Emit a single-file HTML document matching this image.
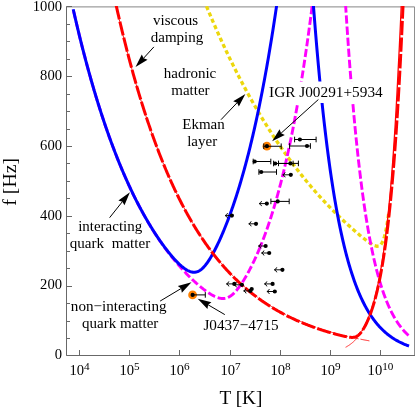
<!DOCTYPE html><html><head><meta charset="utf-8"><style>html,body{margin:0;padding:0;background:#fff}svg{display:block;will-change:transform;opacity:.999}text{font-family:"Liberation Serif",serif;fill:#000}</style></head><body>
<svg width="415" height="411" viewBox="0 0 415 411">
<rect width="415" height="411" fill="#fff"/>
<defs><clipPath id="c"><rect x="66.5" y="5.9" width="348.0" height="349.6"/></clipPath></defs>
<path d="M66.5,6.9H414.6V355.5" stroke="#858585" stroke-width="1" fill="none"/>
<path d="M66.5,6.4V355.5H415" stroke="#686868" stroke-width="1" fill="none"/>
<path d="M66.5,355.5h5.5M66.5,338.5h3.5M66.5,321.5h3.5M66.5,303.5h3.5M66.5,286.5h5.5M66.5,268.5h3.5M66.5,251.5h3.5M66.5,233.5h3.5M66.5,216.5h5.5M66.5,198.5h3.5M66.5,181.5h3.5M66.5,163.5h3.5M66.5,146.5h5.5M66.5,129.5h3.5M66.5,111.5h3.5M66.5,94.5h3.5M66.5,76.5h5.5M66.5,59.5h3.5M66.5,41.5h3.5M66.5,24.5h3.5M66.5,6.5h5.5M79.5,355.5v-5.5M129.5,355.5v-5.5M179.5,355.5v-5.5M230.5,355.5v-5.5M280.5,355.5v-5.5M330.5,355.5v-5.5M380.5,355.5v-5.5" stroke="#686868" stroke-width="1" fill="none"/>
<g clip-path="url(#c)" fill="none" stroke-linejoin="round">
<path d="M201.31,-6.57L202.07,-4.67L202.83,-2.76M203.88,-0.17L204.65,1.73L205.42,3.63M206.48,6.21L207.26,8.11L208.05,10.00M209.13,12.58L209.92,14.47L210.72,16.36M211.82,18.93L212.63,20.81L213.44,22.69M214.55,25.26L215.37,27.14L216.19,29.01M217.33,31.57L218.16,33.44L219.00,35.31M220.15,37.86L221.00,39.73L221.85,41.59M223.02,44.13L223.88,45.99L224.74,47.85M225.93,50.38L226.81,52.23L227.69,54.08M228.90,56.60L229.79,58.45L230.69,60.29M231.91,62.80L232.82,64.64L233.73,66.48M234.98,68.98L235.90,70.81L236.83,72.64M238.10,75.13L239.04,76.95L239.99,78.77M241.28,81.25L242.23,83.06L243.19,84.87M244.51,87.34L245.48,89.14L246.46,90.94M247.80,93.40L248.79,95.19L249.78,96.99M251.15,99.43L252.15,101.21L253.17,102.99M254.56,105.42L255.58,107.19L256.61,108.97M258.02,111.38L259.07,113.14L260.12,114.90M261.56,117.30L262.62,119.05L263.69,120.80M265.16,123.18L266.24,124.92L267.33,126.66M268.82,129.02L269.92,130.75L271.03,132.47M272.55,134.82L273.67,136.53L274.80,138.25M276.35,140.57L277.49,142.27L278.64,143.97M280.22,146.28L281.39,147.96L282.56,149.65M284.17,151.93L285.35,153.61L286.55,155.27M288.18,157.54L289.39,159.19L290.61,160.85M292.27,163.09L293.50,164.73L294.74,166.36M296.44,168.58L297.70,170.20L298.96,171.82M300.69,174.01L301.96,175.62L303.25,177.22M305.01,179.39L306.31,180.97L307.62,182.55M309.41,184.69L310.74,186.26L312.07,187.82M313.89,189.93L315.24,191.48L316.60,193.01M318.46,195.10L319.83,196.62L321.21,198.14M323.10,200.20L324.50,201.70L325.90,203.19M327.83,205.22L329.25,206.69L330.68,208.16M332.64,210.16L334.08,211.61L335.54,213.05M337.53,215.01L339.00,216.44L340.48,217.86M342.51,219.79L344.00,221.19L345.50,222.59M347.56,224.48L349.08,225.85L350.61,227.22M352.70,229.07L354.25,230.42L355.80,231.76M357.93,233.57L359.50,234.89L361.08,236.19M363.25,237.96L364.85,239.23L366.47,240.49M368.72,242.15L370.40,243.32L372.13,244.42M374.63,245.68L376.59,246.23L378.62,246.09M380.88,244.51L382.04,242.82L382.94,240.98M383.91,238.36L384.50,236.40L385.03,234.42M385.66,231.70L386.08,229.69L386.47,227.68M386.96,224.93L387.30,222.90L387.62,220.88M388.04,218.11L388.33,216.09L388.61,214.05" stroke="#ecd70c" stroke-width="3.3"/>
<path d="M73.20,9.29 L73.45,10.39 L73.70,11.49 L73.95,12.58 L74.20,13.67 L74.45,14.76 L74.70,15.85 L74.95,16.93 L75.20,18.00 L75.45,19.08 L75.70,20.14 L75.95,21.21 L76.20,22.27 L76.45,23.33 L76.70,24.39 L76.95,25.44 L77.20,26.49 L77.45,27.54 L77.70,28.58 L77.95,29.62 L78.20,30.66 L78.45,31.69 L78.70,32.72 L78.95,33.75 L79.20,34.77 L79.45,35.79 L79.70,36.81 L79.95,37.82 L80.20,38.83 L80.45,39.84 L80.70,40.84 L80.95,41.84 L81.20,42.84 L81.45,43.83 L81.70,44.82 L81.95,45.81 L82.20,46.80 L82.45,47.78 L82.70,48.76 L82.95,49.73 L83.20,50.70 L83.45,51.67 L83.70,52.64 L83.95,53.60 L84.20,54.56 L84.45,55.52 L84.70,56.47 L84.95,57.43 L85.20,58.37 L85.45,59.32 L85.70,60.26 L85.95,61.20 L86.20,62.13 L86.45,63.07 L86.70,64.00 L86.95,64.92 L87.20,65.85 L87.45,66.77 L87.70,67.69 L87.95,68.60 L88.20,69.51 L88.45,70.42 L88.70,71.33 L88.95,72.23 L89.20,73.14 L89.45,74.03 L89.70,74.93 L89.95,75.82 L90.20,76.71 L90.45,77.60 L90.70,78.48 L90.95,79.36 L91.20,80.24 L91.45,81.11 L91.70,81.99 L91.95,82.86 L92.20,83.72 L92.45,84.59 L92.70,85.45 L92.95,86.31 L93.20,87.16 L93.45,88.02 L93.70,88.87 L93.95,89.72 L94.20,90.56 L94.45,91.40 L94.70,92.24 L94.95,93.08 L95.20,93.91 L95.45,94.75 L95.70,95.58 L95.95,96.40 L96.20,97.23 L96.45,98.05 L96.70,98.87 L96.95,99.68 L97.20,100.50 L97.45,101.31 L97.70,102.12 L97.95,102.92 L98.20,103.72 L98.45,104.52 L98.70,105.32 L98.95,106.12 L99.20,106.91 L99.45,107.70 L99.70,108.49 L99.95,109.28 L100.20,110.06 L100.45,110.84 L100.70,111.62 L100.95,112.39 L101.20,113.17 L101.45,113.94 L101.70,114.70 L101.95,115.47 L102.20,116.23 L102.45,116.99 L102.70,117.75 L102.95,118.51 L103.20,119.26 L103.45,120.01 L103.70,120.76 L103.95,121.51 L104.20,122.25 L104.45,122.99 L104.70,123.73 L104.95,124.47 L105.20,125.21 L105.45,125.94 L105.70,126.67 L105.95,127.40 L106.20,128.12 L106.45,128.84 L106.70,129.56 L106.95,130.28 L107.20,131.00 L107.45,131.71 L107.70,132.42 L107.95,133.13 L108.20,133.84 L108.45,134.55 L108.70,135.25 L108.95,135.95 L109.20,136.65 L109.45,137.34 L109.70,138.04 L109.95,138.73 L110.20,139.42 L110.45,140.10 L110.70,140.79 L110.95,141.47 L111.20,142.15 L111.45,142.83 L111.70,143.51 L111.95,144.18 L112.20,144.85 L112.45,145.52 L112.70,146.19 L112.95,146.86 L113.20,147.52 L113.45,148.18 L113.70,148.84 L113.95,149.50 L114.20,150.15 L114.45,150.81 L114.70,151.46 L114.95,152.11 L115.20,152.75 L115.45,153.40 L115.70,154.04 L115.95,154.68 L116.20,155.32 L116.45,155.96 L116.70,156.59 L116.95,157.22 L117.20,157.85 L117.45,158.48 L117.70,159.11 L117.95,159.73 L118.20,160.36 L118.45,160.98 L118.70,161.59 L118.95,162.21 L119.20,162.83 L119.45,163.44 L119.70,164.05 L119.95,164.66 L120.20,165.27 L120.45,165.87 L120.70,166.47 L120.95,167.07 L121.20,167.67 L121.45,168.27 L121.70,168.87 L121.95,169.46 L122.20,170.05 L122.45,170.64 L122.70,171.23 L122.95,171.81 L123.20,172.40 L123.45,172.98 L123.70,173.56 L123.95,174.14 L124.20,174.72 L124.45,175.29 L124.70,175.86 L124.95,176.44 L125.20,177.01 L125.45,177.57 L125.70,178.14 L125.95,178.70 L126.20,179.26 L126.45,179.83 L126.70,180.38 L126.95,180.94 L127.20,181.50 L127.45,182.05 L127.70,182.60 L127.95,183.15 L128.20,183.70 L128.45,184.24 L128.70,184.79 L128.95,185.33 L129.20,185.87 L129.45,186.41 L129.70,186.95 L129.95,187.49 L130.20,188.02 L130.45,188.55 L130.70,189.08 L130.95,189.61 L131.20,190.14 L131.45,190.67 L131.70,191.19 L131.95,191.71 L132.20,192.23 L132.45,192.75 L132.70,193.27 L132.95,193.79 L133.20,194.30 L133.45,194.81 L133.70,195.32 L133.95,195.83 L134.20,196.34 L134.45,196.85 L134.70,197.35 L134.95,197.86 L135.20,198.36 L135.45,198.86 L135.70,199.35 L135.95,199.85 L136.20,200.35 L136.45,200.84 L136.70,201.33 L136.95,201.82 L137.20,202.31 L137.45,202.80 L137.70,203.28 L137.95,203.77 L138.20,204.25 L138.45,204.73 L138.70,205.21 L138.95,205.69 L139.20,206.16 L139.45,206.64 L139.70,207.11 L139.95,207.58 L140.20,208.05 L140.45,208.52 L140.70,208.99 L140.95,209.46 L141.20,209.92 L141.45,210.38 L141.70,210.85 L141.95,211.31 L142.20,211.76 L142.45,212.22 L142.70,212.68 L142.95,213.13 L143.20,213.58 L143.45,214.03 L143.70,214.48 L143.95,214.93 L144.20,215.38 L144.45,215.83 L144.70,216.27 L144.95,216.71 L145.20,217.15 L145.45,217.59 L145.70,218.03 L145.95,218.47 L146.20,218.90 L146.45,219.34 L146.70,219.77 L146.95,220.20 L147.20,220.63 L147.45,221.06 L147.70,221.49 L147.95,221.92 L148.20,222.34 L148.45,222.76 L148.70,223.19 L148.95,223.61 L149.20,224.03 L149.45,224.44 L149.70,224.86 L149.95,225.28 L150.20,225.69 L150.45,226.10 L150.70,226.52 L150.95,226.93 L151.20,227.33 L151.45,227.74 L151.70,228.15 L151.95,228.55 L152.20,228.96 L152.45,229.36 L152.70,229.76 L152.95,230.16 L153.20,230.56 L153.45,230.96 L153.70,231.35 L153.95,231.75 L154.20,232.14 L154.45,232.53 L154.70,232.92 L154.95,233.31 L155.20,233.70 L155.45,234.09 L155.70,234.47 L155.95,234.86 L156.20,235.24 L156.45,235.63 L156.70,236.01 L156.95,236.39 L157.20,236.77 L157.45,237.14 L157.70,237.52 L157.95,237.89 L158.20,238.27 L158.45,238.64 L158.70,239.01 L158.95,239.38 L159.20,239.75 L159.45,240.12 L159.70,240.49 L159.95,240.85 L160.20,241.22 L160.45,241.58 L160.70,241.94 L160.95,242.30 L161.20,242.66 L161.45,243.02 L161.70,243.38 L161.95,243.74 L162.20,244.09 L162.45,244.45 L162.70,244.80 L162.95,245.15 L163.20,245.50 L163.45,245.85 L163.70,246.20 L163.95,246.55 L164.20,246.89 L164.45,247.24 L164.70,247.58 L164.95,247.93 L165.20,248.27 L165.45,248.61 L165.70,248.95 L165.95,249.29 L166.20,249.63 L166.45,249.96 L166.70,250.30 L166.95,250.63 L167.20,250.96 L167.45,251.30 L167.70,251.63 L167.95,251.96 L168.20,252.29 L168.45,252.62 L168.70,252.94 L168.95,253.27 L169.20,253.59 L169.45,253.92 L169.70,254.24 L169.95,254.56 L170.20,254.88 L170.45,255.20 L170.70,255.52 L170.95,255.84 L171.20,256.15 L171.45,256.47 L171.70,256.79 L171.95,257.10 L172.20,257.41 L172.45,257.72 L172.70,258.03 L172.95,258.34 L173.20,258.65 L173.45,258.96 L173.70,259.27 L173.95,259.57 L174.20,259.88 L174.45,260.18 L174.70,260.48 L174.95,260.78 L175.20,261.09 L175.45,261.38 L175.70,261.68 L175.95,261.98 L176.20,262.28 L176.45,262.57 L176.70,262.87 L176.95,263.16 L177.20,263.46 L177.45,263.75 L177.70,264.04 L177.95,264.33 L178.20,264.62 L178.45,264.91 L178.70,265.19 L178.95,265.48 L179.20,265.77 L179.45,266.05 L179.70,266.33 L179.95,266.62 L180.20,266.90 L180.45,267.18 L180.70,267.46 L180.95,267.74 L181.20,268.02 L181.45,268.29 L181.70,268.57 L181.95,268.85 L182.20,269.12 L182.45,269.39 L182.70,269.67 L182.95,269.94 L183.20,270.21 L183.45,270.48 L183.70,270.75 L183.95,271.02 L184.20,271.28 L184.45,271.55 L184.70,271.82 L184.95,272.08 L185.20,272.34 L185.45,272.61 L185.70,272.87 L185.95,273.13 L186.20,273.39 L186.45,273.65 L186.70,273.91 L186.95,274.16 L187.20,274.42 L187.45,274.68 L187.70,274.93 L187.95,275.18 L188.20,275.44 L188.45,275.69 L188.70,275.94 L188.95,276.19 L189.20,276.44 L189.45,276.69 L189.70,276.94 L189.95,277.18 L190.20,277.43 L190.45,277.67 L190.70,277.92 L190.95,278.16 L191.20,278.40 L191.45,278.65 L191.70,278.89 L191.95,279.13 L192.20,279.37 L192.45,279.60 L192.70,279.84 L192.95,280.08 L193.20,280.31 L193.45,280.55 L193.70,280.78 L193.95,281.01 L194.20,281.24 L194.45,281.47 L194.70,281.70 L194.95,281.93 L195.20,282.16 L195.45,282.39 L195.70,282.62 L195.95,282.84 L196.20,283.06 L196.45,283.29 L196.70,283.51 L196.95,283.73 L197.20,283.95 L197.45,284.17 L197.70,284.39 L197.95,284.61 L198.20,284.83 L198.45,285.04 L198.70,285.26 L198.95,285.47 L199.20,285.68 L199.45,285.90 L199.70,286.11 L199.95,286.32 L200.20,286.52 L200.45,286.73 L200.70,286.94 L200.95,287.15 L201.20,287.35 L201.45,287.55 L201.70,287.76 L201.95,287.96 L202.20,288.16 L202.45,288.36 L202.70,288.56 L202.95,288.75 L203.20,288.95 L203.45,289.14 L203.70,289.34 L203.95,289.53 L204.20,289.72 L204.45,289.91 L204.70,290.10 L204.95,290.29 L205.20,290.47 L205.45,290.66 L205.70,290.84 L205.95,291.02 L206.20,291.21 L206.45,291.39 L206.70,291.56 L206.95,291.74 L207.20,291.92 L207.45,292.09 L207.70,292.26 L207.95,292.44 L208.20,292.61 L208.45,292.77 L208.70,292.94 L208.95,293.11 L209.20,293.27 L209.45,293.43 L209.70,293.59 L209.95,293.75 L210.20,293.91 L210.45,294.06 L210.70,294.21 L210.95,294.37 L211.20,294.52 L211.45,294.66 L211.70,294.81 L211.95,294.95 L212.20,295.09 L212.45,295.23 L212.70,295.37 L212.95,295.51 L213.20,295.64 L213.45,295.77 L213.70,295.90 L213.95,296.03 L214.20,296.15 L214.45,296.27 L214.70,296.39 L214.95,296.51 L215.20,296.62 L215.45,296.74 L215.70,296.84 L215.95,296.95 L216.20,297.05 L216.45,297.15 L216.70,297.25 L216.95,297.35 L217.20,297.44 L217.45,297.53 L217.70,297.61 L217.95,297.69 L218.20,297.77 L218.45,297.85 L218.70,297.92 L218.95,297.99 L219.20,298.05 L219.45,298.11 L219.70,298.17 L219.95,298.22 L220.20,298.27 L220.45,298.32 L220.70,298.36 L220.95,298.40 L221.20,298.43 L221.45,298.46 L221.70,298.48 L221.95,298.50 L222.20,298.52 L222.45,298.53 L222.70,298.53 L222.95,298.54 L223.20,298.53 L223.45,298.52 L223.70,298.51 L223.95,298.49 L224.20,298.47 L224.45,298.44 L224.70,298.40 L224.95,298.37 L225.20,298.32 L225.45,298.27 L225.70,298.21 L225.95,298.15 L226.20,298.09 L226.45,298.01 L226.70,297.94 L226.95,297.85 L227.20,297.76 L227.45,297.67 L227.70,297.56 L227.95,297.46 L228.20,297.34 L228.45,297.23 L228.70,297.10 L228.95,296.97 L229.20,296.83 L229.45,296.69 L229.70,296.54 L229.95,296.39 L230.20,296.23 L230.45,296.06 L230.70,295.89 L230.95,295.71 L231.20,295.53 L231.45,295.34 L231.70,295.14 L231.95,294.94 L232.20,294.74 L232.45,294.52 L232.70,294.31 L232.95,294.08 L233.20,293.86 L233.45,293.62 L233.70,293.38 L233.95,293.14 L234.20,292.89 L234.45,292.64 L234.70,292.38 L234.95,292.11 L235.20,291.84 L235.45,291.57 L235.70,291.29 L235.95,291.01 L236.20,290.72 L236.45,290.43 L236.70,290.13 L236.95,289.83 L237.20,289.52 L237.45,289.21 L237.70,288.90 L237.95,288.58 L238.20,288.26 L238.45,287.93 L238.70,287.60 L238.95,287.26 L239.20,286.92 L239.45,286.58 L239.70,286.24 L239.95,285.89 L240.20,285.53 L240.45,285.17 L240.70,284.81 L240.95,284.45 L241.20,284.08 L241.45,283.71 L241.70,283.33 L241.95,282.96 L242.20,282.57 L242.45,282.19 L242.70,281.80 L242.95,281.41 L243.20,281.01 L243.45,280.62 L243.70,280.21 L243.95,279.81 L244.20,279.40 L244.45,278.99 L244.70,278.58 L244.95,278.16 L245.20,277.74 L245.45,277.31 L245.70,276.89 L245.95,276.46 L246.20,276.03 L246.45,275.59 L246.70,275.15 L246.95,274.71 L247.20,274.27 L247.45,273.82 L247.70,273.37 L247.95,272.91 L248.20,272.46 L248.45,272.00 L248.70,271.53 L248.95,271.07 L249.20,270.60 L249.45,270.13 L249.70,269.65 L249.95,269.18 L250.20,268.69 L250.45,268.21 L250.70,267.72 L250.95,267.24 L251.20,266.74 L251.45,266.25 L251.70,265.75 L251.95,265.25 L252.20,264.74 L252.45,264.23 L252.70,263.72 L252.95,263.21 L253.20,262.69 L253.45,262.17 L253.70,261.65 L253.95,261.12 L254.20,260.59 L254.45,260.06 L254.70,259.52 L254.95,258.99 L255.20,258.44 L255.45,257.90 L255.70,257.35 L255.95,256.80 L256.20,256.24 L256.45,255.69 L256.70,255.13 L256.95,254.56 L257.20,253.99 L257.45,253.42 L257.70,252.85 L257.95,252.27 L258.20,251.69 L258.45,251.10 L258.70,250.52 L258.95,249.93 L259.20,249.33 L259.45,248.73 L259.70,248.13 L259.82,247.84" stroke="#ff00ff" stroke-width="2.9" stroke-dasharray="7.800 2.800" stroke-dashoffset="8.700"/>
<path d="M259.82,247.84 L259.95,247.53 L260.20,246.92 L260.45,246.31 L260.70,245.69 L260.95,245.08 L261.20,244.45 L261.45,243.83 L261.70,243.20 L261.95,242.57 L262.20,241.93 L262.45,241.29 L262.70,240.65 L262.95,240.00 L263.20,239.35 L263.45,238.69 L263.70,238.03 L263.95,237.37 L264.20,236.71 L264.45,236.04 L264.70,235.36 L264.95,234.69 L265.20,234.00 L265.45,233.32 L265.70,232.63 L265.95,231.94 L266.20,231.24 L266.45,230.54 L266.70,229.84 L266.95,229.13 L267.20,228.41 L267.45,227.70 L267.70,226.98 L267.95,226.25 L268.20,225.52 L268.45,224.79 L268.70,224.05 L268.95,223.31 L269.20,222.57 L269.45,221.82 L269.70,221.06 L269.95,220.31 L270.20,219.54 L270.45,218.78 L270.70,218.00 L270.95,217.23 L271.20,216.45 L271.45,215.67 L271.70,214.88 L271.95,214.08 L272.20,213.29 L272.45,212.48 L272.70,211.68 L272.95,210.87 L273.20,210.05 L273.45,209.23 L273.70,208.40 L273.95,207.57 L274.20,206.74 L274.45,205.90 L274.70,205.06 L274.95,204.21 L275.20,203.36 L275.45,202.50 L275.70,201.63 L275.95,200.77 L276.20,199.89 L276.45,199.02 L276.70,198.13 L276.95,197.25 L277.20,196.35 L277.45,195.46 L277.70,194.55 L277.95,193.65 L278.20,192.73 L278.45,191.81 L278.70,190.89 L278.95,189.96 L279.20,189.03 L279.45,188.09 L279.70,187.15 L279.95,186.20 L280.20,185.24 L280.45,184.28 L280.70,183.31 L280.95,182.34 L281.20,181.37 L281.45,180.38 L281.70,179.40 L281.95,178.40 L282.20,177.40 L282.45,176.40 L282.70,175.39 L282.95,174.37 L283.20,173.35 L283.45,172.32 L283.70,171.29 L283.95,170.25 L284.20,169.21 L284.45,168.16 L284.70,167.10 L284.95,166.04 L285.20,164.97 L285.45,163.89 L285.70,162.81 L285.95,161.73 L286.20,160.63 L286.45,159.53 L286.70,158.43 L286.95,157.32 L287.20,156.20 L287.45,155.07 L287.70,153.94 L287.95,152.81 L288.20,151.66 L288.45,150.51 L288.70,149.36 L288.95,148.19 L289.20,147.02 L289.45,145.85 L289.70,144.67 L289.95,143.48 L290.20,142.28 L290.45,141.08 L290.70,139.87 L290.95,138.65 L291.20,137.43 L291.45,136.20 L291.70,134.96 L291.95,133.72 L292.20,132.47 L292.45,131.21 L292.70,129.94 L292.95,128.67 L293.20,127.39 L293.45,126.10 L293.70,124.81 L293.95,123.51 L294.20,122.20 L294.45,120.88 L294.70,119.56 L294.95,118.23 L295.20,116.89 L295.45,115.55 L295.70,114.19 L295.95,112.83 L296.20,111.46 L296.45,110.09 L296.70,108.70 L296.95,107.31 L297.20,105.91 L297.45,104.50 L297.70,103.09 L297.95,101.66 L298.20,100.23 L298.45,98.79 L298.70,97.34 L298.95,95.89 L299.20,94.42 L299.45,92.95 L299.69,91.55" stroke="#ff00ff" stroke-width="2.9" stroke-dasharray="8.100 2.800" stroke-dashoffset="2.100"/>
<path d="M299.69,91.55 L299.70,91.47 L299.95,89.98 L300.20,88.48 L300.45,86.97 L300.70,85.46 L300.95,83.94 L301.20,82.40 L301.45,80.86 L301.70,79.31 L301.95,77.76 L302.20,76.19 L302.45,74.61 L302.70,73.03 L302.95,71.44 L303.20,69.83 L303.45,68.22 L303.70,66.60 L303.95,64.97 L304.20,63.33 L304.45,61.69 L304.70,60.03 L304.95,58.36 L305.20,56.69 L305.45,55.00 L305.70,53.31 L305.95,51.60 L306.20,49.89 L306.45,48.16 L306.70,46.43 L306.95,44.69 L307.20,42.93 L307.45,41.17 L307.70,39.40 L307.95,37.61 L308.20,35.82 L308.45,34.02 L308.70,32.20 L308.95,30.38 L309.20,28.55 L309.45,26.70 L309.70,24.85 L309.95,22.98 L310.20,21.11 L310.45,19.22 L310.70,17.32 L310.95,15.41 L311.20,13.50 L311.45,11.57 L311.70,9.63 L311.95,7.68 L312.20,5.71 L312.45,3.74 L312.70,1.76 L312.95,-0.24 L313.20,-2.25 L313.45,-4.26 L313.70,-6.29 L313.95,-8.33 L314.20,-10.39 L314.45,-12.45 L314.70,-14.53 L314.95,-16.61 L315.20,-18.71 L315.45,-20.82 L315.70,-22.95 L315.95,-25.08 L316.20,-27.23" stroke="#ff00ff" stroke-width="2.9" stroke-dasharray="8.000 2.800" stroke-dashoffset="8.200"/>
<path d="M344.00,-21.57 L344.25,-17.30 L344.50,-13.09 L344.75,-8.92 L345.00,-4.79 L345.25,-0.72 L345.50,3.31 L345.75,7.29 L346.00,11.23 L346.25,15.13 L346.50,18.98 L346.75,22.78 L347.00,26.54 L347.25,30.27 L347.50,33.94 L347.75,37.58 L348.00,41.18 L348.25,44.73 L348.50,48.25 L348.75,51.72 L349.00,55.16 L349.25,58.56 L349.50,61.91 L349.75,65.23 L350.00,68.52 L350.25,71.76 L350.50,74.97 L350.75,78.15 L351.00,81.28 L351.25,84.38 L351.50,87.45 L351.75,90.48 L352.00,93.48 L352.25,96.44 L352.50,99.37 L352.75,102.27 L353.00,105.13 L353.25,107.97 L353.50,110.77 L353.75,113.53 L354.00,116.27 L354.25,118.98 L354.50,121.65 L354.75,124.30 L355.00,126.91 L355.25,129.50 L355.50,132.05 L355.75,134.58 L356.00,137.08 L356.25,139.55 L356.50,141.99 L356.75,144.41 L357.00,146.79 L357.25,149.16 L357.50,151.49 L357.75,153.80 L358.00,156.08 L358.25,158.33 L358.50,160.56 L358.75,162.77 L359.00,164.95 L359.25,167.10 L359.50,169.23 L359.75,171.34 L360.00,173.42 L360.25,175.48 L360.50,177.52 L360.75,179.53 L361.00,181.52 L361.25,183.49 L361.50,185.44 L361.75,187.36 L362.00,189.26 L362.25,191.14 L362.50,193.00 L362.75,194.84 L363.00,196.66 L363.25,198.45 L363.50,200.23 L363.75,201.99 L364.00,203.72 L364.25,205.44 L364.50,207.14 L364.75,208.81 L365.00,210.47 L365.25,212.11 L365.50,213.73 L365.75,215.34 L366.00,216.92 L366.25,218.49 L366.50,220.04 L366.75,221.57 L367.00,223.09 L367.25,224.59 L367.50,226.07 L367.75,227.53 L368.00,228.98 L368.25,230.41 L368.50,231.82 L368.75,233.22 L369.00,234.61 L369.25,235.97 L369.50,237.32 L369.75,238.66 L370.00,239.98 L370.25,241.29 L370.50,242.58 L370.75,243.86 L371.00,245.12 L371.25,246.37 L371.50,247.60 L371.75,248.82 L372.00,250.03 L372.25,251.22 L372.50,252.40 L372.75,253.57 L373.00,254.72 L373.25,255.86 L373.50,256.99 L373.75,258.10 L374.00,259.20 L374.25,260.29 L374.50,261.37 L374.75,262.44 L375.00,263.49 L375.25,264.53 L375.50,265.56 L375.75,266.57 L376.00,267.58 L376.25,268.57 L376.50,269.56 L376.75,270.53 L377.00,271.49 L377.25,272.44 L377.50,273.38 L377.75,274.31 L378.00,275.23 L378.25,276.14 L378.50,277.03 L378.75,277.92 L379.00,278.80 L379.25,279.67 L379.50,280.52 L379.75,281.37 L380.00,282.21 L380.25,283.04 L380.50,283.86 L380.75,284.67 L381.00,285.47 L381.25,286.26 L381.50,287.05 L381.75,287.82 L382.00,288.59 L382.25,289.34 L382.50,290.09 L382.75,290.83 L383.00,291.56 L383.25,292.28 L383.50,293.00 L383.75,293.71 L384.00,294.41 L384.25,295.10 L384.50,295.78 L384.75,296.46 L385.00,297.12 L385.25,297.78 L385.50,298.44 L385.75,299.08 L386.00,299.72 L386.25,300.35 L386.50,300.97 L386.75,301.59 L387.00,302.20 L387.25,302.80 L387.50,303.40 L387.75,303.99 L388.00,304.57 L388.25,305.15 L388.50,305.72 L388.75,306.28 L389.00,306.84 L389.25,307.39 L389.50,307.93 L389.75,308.47 L390.00,309.00 L390.25,309.53 L390.50,310.05 L390.75,310.56 L391.00,311.07 L391.25,311.57 L391.50,312.07 L391.75,312.56 L392.00,313.05 L392.25,313.53 L392.50,314.00 L392.75,314.47 L393.00,314.93 L393.25,315.39 L393.50,315.85 L393.75,316.30 L394.00,316.74 L394.25,317.18 L394.50,317.61 L394.75,318.04 L395.00,318.46 L395.25,318.88 L395.50,319.30 L395.75,319.71 L396.00,320.11 L396.25,320.51 L396.50,320.91 L396.75,321.30 L397.00,321.68 L397.25,322.07 L397.50,322.45 L397.75,322.82 L398.00,323.19 L398.25,323.55 L398.50,323.92 L398.75,324.27 L399.00,324.63 L399.25,324.97 L399.50,325.32 L399.75,325.66 L400.00,326.00 L400.25,326.33 L400.50,326.66 L400.75,326.99 L401.00,327.31 L401.25,327.63 L401.50,327.95 L401.75,328.26 L402.00,328.57 L402.25,328.87 L402.50,329.17 L402.75,329.47 L403.00,329.76 L403.25,330.05 L403.50,330.34 L403.75,330.63 L404.00,330.91 L404.25,331.19 L404.50,331.46 L404.75,331.73 L405.00,332.00 L405.25,332.27 L405.50,332.53 L405.75,332.79 L406.00,333.05 L406.25,333.30 L406.50,333.55 L406.75,333.80 L407.00,334.05 L407.25,334.29 L407.50,334.53 L407.75,334.77 L408.00,335.00 L408.25,335.23 L408.50,335.46" stroke="#ff00ff" stroke-width="2.9" stroke-dasharray="8.318 2.800" stroke-dashoffset="7.444"/>
<path d="M73.20,9.29 L73.70,11.49 L74.20,13.67 L74.70,15.85 L75.20,18.00 L75.70,20.14 L76.20,22.27 L76.70,24.39 L77.20,26.49 L77.70,28.58 L78.20,30.66 L78.70,32.72 L79.20,34.77 L79.70,36.81 L80.20,38.83 L80.70,40.84 L81.20,42.84 L81.70,44.82 L82.20,46.80 L82.70,48.76 L83.20,50.70 L83.70,52.64 L84.20,54.56 L84.70,56.47 L85.20,58.37 L85.70,60.26 L86.20,62.13 L86.70,64.00 L87.20,65.85 L87.70,67.69 L88.20,69.51 L88.70,71.33 L89.20,73.14 L89.70,74.93 L90.20,76.71 L90.70,78.48 L91.20,80.24 L91.70,81.99 L92.20,83.72 L92.70,85.45 L93.20,87.16 L93.70,88.87 L94.20,90.56 L94.70,92.24 L95.20,93.91 L95.70,95.58 L96.20,97.23 L96.70,98.87 L97.20,100.50 L97.70,102.11 L98.20,103.72 L98.70,105.32 L99.20,106.91 L99.70,108.49 L100.20,110.06 L100.70,111.62 L101.20,113.17 L101.70,114.70 L102.20,116.23 L102.70,117.75 L103.20,119.26 L103.70,120.76 L104.20,122.25 L104.70,123.73 L105.20,125.20 L105.70,126.67 L106.20,128.12 L106.70,129.56 L107.20,131.00 L107.70,132.42 L108.20,133.84 L108.70,135.25 L109.20,136.65 L109.70,138.04 L110.20,139.42 L110.70,140.79 L111.20,142.15 L111.70,143.51 L112.20,144.85 L112.70,146.19 L113.20,147.52 L113.70,148.84 L114.20,150.15 L114.70,151.46 L115.20,152.75 L115.70,154.04 L116.20,155.32 L116.70,156.59 L117.20,157.85 L117.70,159.11 L118.20,160.35 L118.70,161.59 L119.20,162.82 L119.70,164.05 L120.20,165.26 L120.70,166.47 L121.20,167.67 L121.70,168.86 L122.20,170.05 L122.70,171.23 L123.20,172.40 L123.70,173.56 L124.20,174.71 L124.70,175.86 L125.20,177.00 L125.70,178.14 L126.20,179.26 L126.70,180.38 L127.20,181.49 L127.70,182.60 L128.20,183.69 L128.70,184.78 L129.20,185.87 L129.70,186.94 L130.20,188.01 L130.70,189.08 L131.20,190.13 L131.70,191.18 L132.20,192.23 L132.70,193.26 L133.20,194.29 L133.70,195.32 L134.20,196.33 L134.70,197.34 L135.20,198.35 L135.70,199.34 L136.20,200.33 L136.70,201.32 L137.20,202.30 L137.70,203.27 L138.20,204.23 L138.70,205.19 L139.20,206.15 L139.70,207.09 L140.20,208.04 L140.70,208.97 L141.20,209.90 L141.70,210.82 L142.20,211.74 L142.70,212.65 L143.20,213.56 L143.70,214.46 L144.20,215.35 L144.70,216.24 L145.20,217.12 L145.70,218.00 L146.20,218.87 L146.70,219.73 L147.20,220.59 L147.70,221.45 L148.20,222.29 L148.70,223.14 L149.20,223.97 L149.70,224.81 L150.20,225.63 L150.70,226.45 L151.20,227.27 L151.70,228.08 L152.20,228.88 L152.70,229.68 L153.20,230.47 L153.70,231.26 L154.20,232.05 L154.70,232.82 L155.20,233.60 L155.70,234.36 L156.20,235.12 L156.70,235.88 L157.20,236.63 L157.70,237.38 L158.20,238.12 L158.70,238.85 L159.20,239.58 L159.70,240.31 L160.20,241.03 L160.70,241.74 L161.20,242.45 L161.70,243.16 L162.20,243.85 L162.70,244.55 L163.20,245.24 L163.70,245.92 L164.20,246.59 L164.70,247.27 L165.20,247.93 L165.70,248.59 L166.20,249.25 L166.70,249.90 L167.20,250.54 L167.70,251.18 L168.20,251.81 L168.70,252.44 L169.20,253.06 L169.70,253.67 L170.20,254.28 L170.70,254.89 L171.20,255.48 L171.70,256.07 L172.20,256.66 L172.70,257.23 L173.20,257.80 L173.70,258.37 L174.20,258.92 L174.70,259.47 L175.20,260.02 L175.70,260.55 L176.20,261.08 L176.70,261.60 L177.20,262.11 L177.70,262.61 L178.20,263.11 L178.70,263.60 L179.20,264.07 L179.70,264.54 L180.20,265.00 L180.70,265.45 L181.20,265.89 L181.70,266.32 L182.20,266.73 L182.70,267.14 L183.20,267.54 L183.70,267.92 L184.20,268.29 L184.70,268.65 L185.20,268.99 L185.70,269.32 L186.20,269.63 L186.70,269.93 L187.20,270.22 L187.70,270.49 L188.20,270.74 L188.70,270.98 L189.20,271.19 L189.70,271.39 L190.20,271.57 L190.70,271.73 L191.20,271.87 L191.70,271.99 L192.20,272.08 L192.70,272.16 L193.20,272.21 L193.70,272.23 L194.20,272.24 L194.70,272.21 L195.20,272.16 L195.70,272.09 L196.20,271.99 L196.70,271.86 L197.20,271.70 L197.70,271.52 L198.20,271.31 L198.70,271.07 L199.20,270.80 L199.70,270.51 L200.20,270.18 L200.70,269.83 L201.20,269.45 L201.70,269.04 L202.20,268.60 L202.70,268.14 L203.20,267.65 L203.70,267.13 L204.20,266.59 L204.70,266.02 L205.20,265.43 L205.70,264.81 L206.20,264.17 L206.70,263.51 L207.20,262.82 L207.70,262.11 L208.20,261.38 L208.70,260.63 L209.20,259.87 L209.70,259.08 L210.20,258.27 L210.70,257.44 L211.20,256.60 L211.70,255.74 L212.20,254.86 L212.70,253.97 L213.20,253.06 L213.70,252.14 L214.20,251.20 L214.70,250.24 L215.20,249.27 L215.70,248.29 L216.20,247.29 L216.70,246.28 L217.20,245.25 L217.70,244.21 L218.20,243.16 L218.70,242.09 L219.20,241.01 L219.70,239.92 L220.20,238.81 L220.70,237.70 L221.20,236.56 L221.70,235.42 L222.20,234.26 L222.70,233.09 L223.20,231.91 L223.70,230.71 L224.20,229.50 L224.70,228.28 L225.20,227.04 L225.70,225.80 L226.20,224.53 L226.70,223.26 L227.20,221.97 L227.70,220.67 L228.20,219.36 L228.70,218.03 L229.20,216.69 L229.70,215.33 L230.20,213.96 L230.70,212.58 L231.20,211.19 L231.70,209.78 L232.20,208.35 L232.70,206.91 L233.20,205.46 L233.70,203.99 L234.20,202.51 L234.70,201.01 L235.20,199.50 L235.70,197.97 L236.20,196.43 L236.70,194.88 L237.20,193.30 L237.70,191.72 L238.20,190.11 L238.70,188.49 L239.20,186.86 L239.70,185.21 L240.20,183.54 L240.70,181.85 L241.20,180.15 L241.70,178.44 L242.20,176.70 L242.70,174.95 L243.20,173.18 L243.70,171.40 L244.20,169.59 L244.70,167.77 L245.20,165.93 L245.70,164.08 L246.20,162.20 L246.70,160.31 L247.20,158.40 L247.70,156.46 L248.20,154.51 L248.70,152.55 L249.20,150.56 L249.70,148.55 L250.20,146.52 L250.70,144.47 L251.20,142.41 L251.70,140.32 L252.20,138.21 L252.70,136.08 L253.20,133.93 L253.70,131.76 L254.20,129.57 L254.70,127.36 L255.20,125.12 L255.70,122.86 L256.20,120.58 L256.70,118.28 L257.20,115.96 L257.70,113.61 L258.20,111.24 L258.70,108.85 L259.20,106.43 L259.70,103.99 L260.20,101.53 L260.70,99.04 L261.20,96.53 L261.70,93.99 L262.20,91.43 L262.70,88.84 L263.20,86.23 L263.70,83.59 L264.20,80.93 L264.70,78.24 L265.20,75.52 L265.70,72.78 L266.20,70.01 L266.70,67.21 L267.20,64.38 L267.70,61.53 L268.20,58.65 L268.70,55.74 L269.20,52.81 L269.70,49.84 L270.20,46.85 L270.70,43.82 L271.20,40.77 L271.70,37.68 L272.20,34.57 L272.70,31.43 L273.20,28.25 L273.70,25.04 L274.20,21.81 L274.70,18.54 L275.20,15.24 L275.70,11.90 L276.20,8.54 L276.70,5.14 L277.20,1.70 L277.70,-1.76 L278.20,-5.26 L278.70,-8.80 L279.20,-12.37 L279.70,-15.97 L280.20,-19.61 L280.70,-23.29 L281.20,-27.00" stroke="#0000ff" stroke-width="3.0"/>
<path d="M311.00,-28.09 L311.50,-20.91 L312.00,-13.86 L312.50,-6.94 L313.00,-0.16 L313.50,6.50 L314.00,13.03 L314.50,19.45 L315.00,25.74 L315.50,31.91 L316.00,37.97 L316.50,43.92 L317.00,49.75 L317.50,55.47 L318.00,61.09 L318.50,66.60 L319.00,72.01 L319.50,77.32 L320.00,82.53 L320.50,87.64 L321.00,92.65 L321.50,97.57 L322.00,102.40 L322.50,107.14 L323.00,111.79 L323.50,116.35 L324.00,120.83 L324.50,125.23 L325.00,129.54 L325.50,133.77 L326.00,137.92 L326.50,141.99 L327.00,145.99 L327.50,149.91 L328.00,153.76 L328.50,157.54 L329.00,161.24 L329.50,164.88 L330.00,168.45 L330.50,171.95 L331.00,175.39 L331.50,178.76 L332.00,182.07 L332.50,185.32 L333.00,188.50 L333.50,191.63 L334.00,194.70 L334.50,197.71 L335.00,200.66 L335.50,203.56 L336.00,206.41 L336.50,209.20 L337.00,211.94 L337.50,214.63 L338.00,217.26 L338.50,219.85 L339.00,222.39 L339.50,224.88 L340.00,227.33 L340.50,229.73 L341.00,232.08 L341.50,234.39 L342.00,236.66 L342.50,238.89 L343.00,241.07 L343.50,243.21 L344.00,245.31 L344.50,247.38 L345.00,249.40 L345.50,251.39 L346.00,253.34 L346.50,255.25 L347.00,257.13 L347.50,258.97 L348.00,260.78 L348.50,262.55 L349.00,264.29 L349.50,266.00 L350.00,267.67 L350.50,269.32 L351.00,270.93 L351.50,272.51 L352.00,274.07 L352.50,275.59 L353.00,277.09 L353.50,278.56 L354.00,280.00 L354.50,281.41 L355.00,282.80 L355.50,284.16 L356.00,285.49 L356.50,286.81 L357.00,288.09 L357.50,289.35 L358.00,290.59 L358.50,291.81 L359.00,293.00 L359.50,294.17 L360.00,295.32 L360.50,296.44 L361.00,297.55 L361.50,298.64 L362.00,299.70 L362.50,300.74 L363.00,301.77 L363.50,302.78 L364.00,303.76 L364.50,304.73 L365.00,305.68 L365.50,306.61 L366.00,307.53 L366.50,308.43 L367.00,309.31 L367.50,310.17 L368.00,311.02 L368.50,311.86 L369.00,312.67 L369.50,313.47 L370.00,314.26 L370.50,315.03 L371.00,315.79 L371.50,316.53 L372.00,317.26 L372.50,317.98 L373.00,318.68 L373.50,319.37 L374.00,320.05 L374.50,320.71 L375.00,321.36 L375.50,322.00 L376.00,322.63 L376.50,323.25 L377.00,323.85 L377.50,324.44 L378.00,325.02 L378.50,325.59 L379.00,326.15 L379.50,326.70 L380.00,327.24 L380.50,327.77 L381.00,328.29 L381.50,328.80 L382.00,329.30 L382.50,329.79 L383.00,330.27 L383.50,330.74 L384.00,331.21 L384.50,331.66 L385.00,332.11 L385.50,332.55 L386.00,332.98 L386.50,333.40 L387.00,333.81 L387.50,334.22 L388.00,334.62 L388.50,335.01 L389.00,335.39 L389.50,335.77 L390.00,336.14 L390.50,336.50 L391.00,336.86 L391.50,337.20 L392.00,337.55 L392.50,337.88 L393.00,338.21 L393.50,338.54 L394.00,338.85 L394.50,339.17 L395.00,339.47 L395.50,339.77 L396.00,340.07 L396.50,340.35 L397.00,340.64 L397.50,340.92 L398.00,341.19 L398.50,341.46 L399.00,341.72 L399.50,341.98 L400.00,342.23 L400.50,342.48 L401.00,342.72 L401.50,342.96 L402.00,343.20 L402.50,343.43 L403.00,343.65 L403.50,343.88 L404.00,344.09 L404.50,344.31 L405.00,344.52 L405.50,344.72 L406.00,344.92 L406.50,345.12 L407.00,345.32 L407.50,345.51 L408.00,345.69 L408.50,345.88 L409.00,346.06" stroke="#0000ff" stroke-width="3.0"/>
<path d="M110.00,-23.15 L110.50,-20.74 L111.00,-18.35 L111.50,-15.98 L112.00,-13.62 L112.50,-11.28 L113.00,-8.95 L113.50,-6.64 L114.00,-4.34 L114.50,-2.05 L115.00,0.22 L115.50,2.48 L116.00,4.72 L116.50,6.94 L117.00,9.16 L117.50,11.36 L118.00,13.54 L118.50,15.71 L119.00,17.87 L119.50,20.01 L120.00,22.15 L120.50,24.26 L121.00,26.37 L121.50,28.45 L122.00,30.53 L122.50,32.60 L123.00,34.65 L123.50,36.68 L124.00,38.71 L124.50,40.72 L125.00,42.72 L125.50,44.70 L126.00,46.68 L126.50,48.64 L127.00,50.59 L127.50,52.52 L128.00,54.45 L128.50,56.36 L129.00,58.26 L129.50,60.15 L130.00,62.02 L130.50,63.88 L131.00,65.74 L131.50,67.58 L132.00,69.40 L132.50,71.22 L133.00,73.03 L133.50,74.82 L134.00,76.60 L134.50,78.37 L135.00,80.13 L135.50,81.88 L136.00,83.62 L136.50,85.34 L137.00,87.06 L137.50,88.76 L138.00,90.46 L138.50,92.14 L139.00,93.81 L139.50,95.47 L140.00,97.13 L140.50,98.77 L141.00,100.40 L141.50,102.02 L142.00,103.63 L142.50,105.23 L143.00,106.81 L143.50,108.39 L144.00,109.96 L144.50,111.52 L145.00,113.07 L145.50,114.61 L146.00,116.14 L146.50,117.66 L147.00,119.17 L147.50,120.67 L148.00,122.16 L148.50,123.64 L149.00,125.12 L149.50,126.58 L150.00,128.03 L150.50,129.48 L151.00,130.91 L151.50,132.34 L152.00,133.76 L152.50,135.16 L153.00,136.56 L153.50,137.95 L154.00,139.33 L154.50,140.71 L155.00,142.07 L155.50,143.43 L156.00,144.77 L156.50,146.11 L157.00,147.44 L157.50,148.76 L158.00,150.07 L158.50,151.38 L159.00,152.67 L159.50,153.96 L160.00,155.24 L160.50,156.51 L161.00,157.78 L161.50,159.03 L162.00,160.28 L162.50,161.52 L163.00,162.75 L163.50,163.98 L164.00,165.19 L164.50,166.40 L165.00,167.60 L165.50,168.79 L166.00,169.98 L166.50,171.16 L167.00,172.33 L167.50,173.49 L168.00,174.65 L168.50,175.79 L169.00,176.94 L169.50,178.07 L170.00,179.20 L170.50,180.32 L171.00,181.43 L171.50,182.53 L172.00,183.63 L172.50,184.72 L173.00,185.81 L173.50,186.89 L174.00,187.96 L174.50,189.02 L175.00,190.08 L175.50,191.13 L176.00,192.17 L176.50,193.21 L177.00,194.24 L177.50,195.26 L178.00,196.28 L178.50,197.29 L179.00,198.30 L179.50,199.29 L180.00,200.29 L180.50,201.27 L181.00,202.25 L181.50,203.22 L182.00,204.19 L182.50,205.15 L183.00,206.11 L183.50,207.05 L184.00,208.00 L184.50,208.93 L185.00,209.86 L185.50,210.79 L186.00,211.71 L186.50,212.62 L187.00,213.53 L187.50,214.43 L188.00,215.33 L188.50,216.22 L189.00,217.10 L189.50,217.98 L190.00,218.85 L190.50,219.72 L191.00,220.58 L191.50,221.44 L192.00,222.29 L192.50,223.14 L193.00,223.98 L193.50,224.81 L194.00,225.64 L194.50,226.47 L195.00,227.29 L195.50,228.10 L196.00,228.91 L196.50,229.71 L197.00,230.51 L197.50,231.30 L198.00,232.09 L198.50,232.88 L199.00,233.66 L199.50,234.43 L200.00,235.20 L200.50,235.96 L201.00,236.72 L201.50,237.47 L202.00,238.22 L202.50,238.97 L203.00,239.71 L203.50,240.44 L204.00,241.17 L204.50,241.90 L205.00,242.62 L205.50,243.34 L206.00,244.05 L206.50,244.76 L207.00,245.46 L207.50,246.16 L208.00,246.85 L208.50,247.54 L209.00,248.23 L209.50,248.91 L210.00,249.59 L210.50,250.26 L211.00,250.93 L211.50,251.59 L212.00,252.25 L212.50,252.91 L213.00,253.56 L213.50,254.21 L214.00,254.85 L214.50,255.49 L215.00,256.12 L215.50,256.76 L216.00,257.38 L216.50,258.01 L217.00,258.62 L217.50,259.24 L218.00,259.85 L218.50,260.46 L219.00,261.06 L219.50,261.66 L220.00,262.26 L220.50,262.85 L221.00,263.44 L221.50,264.02 L222.00,264.60 L222.50,265.18 L223.00,265.75 L223.50,266.32 L224.00,266.89 L224.50,267.45 L225.00,268.01 L225.50,268.57 L226.00,269.12 L226.50,269.67 L227.00,270.21 L227.50,270.75 L228.00,271.29 L228.50,271.83 L229.00,272.36 L229.50,272.89 L230.00,273.41 L230.50,273.93 L231.00,274.45 L231.50,274.96 L232.00,275.48 L232.50,275.98 L233.00,276.49 L233.50,276.99 L234.00,277.49 L234.50,277.98 L235.00,278.48 L235.50,278.97 L236.00,279.45 L236.50,279.93 L237.00,280.41 L237.50,280.89 L238.00,281.36 L238.50,281.84 L239.00,282.30 L239.50,282.77 L240.00,283.23 L240.50,283.69 L241.00,284.14 L241.50,284.60 L242.00,285.05 L242.50,285.50 L243.00,285.94 L243.50,286.38 L244.00,286.82 L244.50,287.26 L245.00,287.69 L245.50,288.12 L246.00,288.55 L246.50,288.97 L247.00,289.40 L247.50,289.82 L248.00,290.23 L248.50,290.65 L249.00,291.06 L249.50,291.47 L250.00,291.87 L250.50,292.28 L251.00,292.68 L251.50,293.08 L252.00,293.48 L252.50,293.87 L253.00,294.26 L253.50,294.65 L254.00,295.04 L254.50,295.42 L255.00,295.80 L255.50,296.18 L256.00,296.56 L256.50,296.93 L257.00,297.30 L257.50,297.67 L258.00,298.04 L258.50,298.40 L259.00,298.77 L259.50,299.13 L260.00,299.49 L260.50,299.84 L261.00,300.19 L261.50,300.55 L262.00,300.89 L262.50,301.24 L263.00,301.59 L263.50,301.93 L264.00,302.27 L264.50,302.61 L265.00,302.94 L265.50,303.28 L266.00,303.61 L266.50,303.94 L267.00,304.26 L267.50,304.59 L268.00,304.91 L268.50,305.23 L269.00,305.55 L269.50,305.87 L270.00,306.19 L270.50,306.50 L271.00,306.81 L271.50,307.12 L272.00,307.43 L272.50,307.73 L273.00,308.04 L273.50,308.34 L274.00,308.64 L274.50,308.93 L275.00,309.23 L275.50,309.52 L276.00,309.82 L276.50,310.11 L277.00,310.39 L277.50,310.68 L278.00,310.96 L278.50,311.25 L279.00,311.53 L279.50,311.81 L280.00,312.08 L280.50,312.36 L281.00,312.63 L281.50,312.91 L282.00,313.18 L282.50,313.45 L283.00,313.71 L283.50,313.98 L284.00,314.24 L284.50,314.50 L285.00,314.76 L285.50,315.02 L286.00,315.28 L286.50,315.54 L287.00,315.79 L287.50,316.04 L288.00,316.29 L288.50,316.54 L289.00,316.79 L289.50,317.03 L290.00,317.28 L290.50,317.52 L291.00,317.76 L291.50,318.00 L292.00,318.24 L292.50,318.48 L293.00,318.71 L293.50,318.95 L294.00,319.18 L294.50,319.41 L295.00,319.64 L295.50,319.86 L296.00,320.09 L296.50,320.32 L297.00,320.54 L297.50,320.76 L298.00,320.98 L298.50,321.20 L299.00,321.42 L299.50,321.64 L300.00,321.85 L300.50,322.06 L301.00,322.28 L301.50,322.49 L302.00,322.70 L302.50,322.91 L303.00,323.11 L303.50,323.32 L304.00,323.52 L304.50,323.73 L305.00,323.93 L305.50,324.13 L306.00,324.33 L306.50,324.52 L307.00,324.72 L307.50,324.92 L308.00,325.11 L308.50,325.30 L309.00,325.50 L309.50,325.69 L310.00,325.88 L310.50,326.06 L311.00,326.25 L311.50,326.44 L312.00,326.62 L312.50,326.80 L313.00,326.99 L313.50,327.17 L314.00,327.35 L314.50,327.53 L315.00,327.70 L315.50,327.88 L316.00,328.06 L316.50,328.23 L317.00,328.40 L317.50,328.57 L318.00,328.75 L318.50,328.92 L319.00,329.08 L319.50,329.25 L320.00,329.42 L320.50,329.58 L321.00,329.75 L321.50,329.91 L322.00,330.08 L322.50,330.24 L323.00,330.40 L323.50,330.56 L324.00,330.71 L324.50,330.87 L325.00,331.03 L325.50,331.18 L326.00,331.34 L326.50,331.49 L327.00,331.64 L327.50,331.80 L328.00,331.95 L328.50,332.10 L329.00,332.24 L329.50,332.39 L330.00,332.54 L330.50,332.68 L331.00,332.83 L331.50,332.97 L332.00,333.12 L332.50,333.26 L333.00,333.40 L333.50,333.54 L334.00,333.68 L334.50,333.82 L335.00,333.96 L335.50,334.09 L336.00,334.23 L336.50,334.36 L337.00,334.50 L337.50,334.63 L338.00,334.76 L338.50,334.90 L339.00,335.03 L339.50,335.16 L340.00,335.29 L340.50,335.41 L341.00,335.54 L341.50,335.67 L342.00,335.79 L342.50,335.92 L343.00,336.04 L343.50,336.17 L344.00,336.29 L344.50,336.41 L345.00,336.53 L345.50,336.65 L346.00,336.77 L346.50,336.89 L347.00,337.01 L347.50,337.13 L348.00,337.24 L348.50,337.36 L349.00,337.48 L349.50,337.59 L350.00,337.70 L350.50,337.82 L351.00,337.93 L351.50,338.04 L352.00,338.15 L352.50,338.26 L353.00,338.37 L353.50,338.48 L354.00,338.59 L354.50,338.69 L355.00,338.80 L355.50,338.91 L356.00,339.01 L356.50,339.12 L357.00,339.22 L357.50,339.33 L358.00,339.43 L358.50,339.53 L359.00,339.63 L359.50,339.73 L360.00,339.83 L360.50,339.93 L361.00,340.03 L361.50,340.13 L362.00,340.23 L362.50,340.32 L363.00,340.42 L363.50,340.52 L364.00,340.61 L364.50,340.71 L365.00,340.80 L365.50,340.89 L366.00,340.99 L366.50,341.08 L367.00,341.17 L367.50,341.26 L368.00,341.35 L368.50,341.44 L369.00,341.53 L369.50,341.62 L370.00,341.71 L370.50,341.79" stroke="#ff0000" stroke-width="0.9" stroke-dasharray="9 2" transform="translate(-0.3,-0.8)"/>
<path d="M345.60,347.28 L345.85,347.14 L346.10,347.00 L346.35,346.86 L346.60,346.72 L346.85,346.58 L347.10,346.43 L347.35,346.28 L347.60,346.13 L347.85,345.98 L348.10,345.82 L348.35,345.66 L348.60,345.50 L348.85,345.33 L349.10,345.17 L349.35,345.00 L349.60,344.82 L349.85,344.65 L350.10,344.47 L350.35,344.29 L350.60,344.10 L350.85,343.92 L351.10,343.72 L351.35,343.53 L351.60,343.33 L351.85,343.13 L352.10,342.93 L352.35,342.72 L352.60,342.51 L352.85,342.30 L353.10,342.08 L353.35,341.86 L353.60,341.64 L353.85,341.41 L354.10,341.18 L354.35,340.94 L354.60,340.70 L354.85,340.46 L355.10,340.21 L355.35,339.96 L355.60,339.70 L355.85,339.44 L356.10,339.18 L356.35,338.91 L356.60,338.64 L356.85,338.36 L357.10,338.08 L356.95,337.79 L357.20,337.50 L357.45,337.20 L357.69,336.90 L357.94,336.59 L358.19,336.28 L358.44,335.97 L358.69,335.65 L358.94,335.32 L359.18,334.99 L359.43,334.65 L359.68,334.31 L359.93,333.96 L360.18,333.60 L360.43,333.24 L360.67,332.88 L360.92,332.50 L361.17,332.13 L361.42,331.74 L361.67,331.35 L361.91,330.95 L362.16,330.55 L362.41,330.14" stroke="#ff0000" stroke-width="0.85"/>
<path d="M361.91,330.95 L362.16,330.55 L362.41,330.14 L362.66,329.72 L362.90,329.30 L363.15,328.86 L363.40,328.43 L363.65,327.98 L363.90,327.53 L364.14,327.07 L364.39,326.60 L364.64,326.12 L364.89,325.64 L365.13,325.15 L365.38,324.65 L365.63,324.14 L365.88,323.62 L366.12,323.10 L366.37,322.57 L366.62,322.02 L366.86,321.47 L367.11,320.91 L367.36,320.34 L367.61,319.77 L367.85,319.18 L368.10,318.58 L368.35,317.97 L368.59,317.35 L368.84,316.73 L369.09,316.09 L369.33,315.44 L369.58,314.78 L369.83,314.11 L370.07,313.43 L370.32,312.74 L370.57,312.03 L370.81,311.32 L371.06,310.59 L371.30,309.85 L371.55,309.10 L371.80,308.34 L372.04,307.56 L372.29,306.77 L372.53,305.97 L372.78,305.15 L373.03,304.32 L373.27,303.48 L373.52,302.63 L373.76,301.76 L374.01,300.87 L374.25,299.97 L374.50,299.06 L374.74,298.13 L374.99,297.19 L375.23,296.23 L375.48,295.25 L375.72,294.26 L375.97,293.25 L376.21,292.23 L376.46,291.18 L376.70,290.13 L376.95,289.05 L377.19,287.96 L377.43,286.84 L377.68,285.71 L377.92,284.57 L378.17,283.40 L378.41,282.21 L378.65,281.01 L378.90,279.78 L379.14,278.53 L379.39,277.27 L379.63,275.98 L379.87,274.67 L380.11,273.34 L380.36,271.99 L380.60,270.61 L380.84,269.22 L381.09,267.80 L381.33,266.35 L381.57,264.88 L381.81,263.39 L382.06,261.88 L382.30,260.34 L382.54,258.77 L382.78,257.18 L383.02,255.56 L383.26,253.91 L383.51,252.24 L383.75,250.54 L383.99,248.82 L384.23,247.06 L384.47,245.27 L384.71,243.46 L384.95,241.62 L385.19,239.74 L385.43,237.84 L385.67,235.90 L385.91,233.93 L386.15,231.93 L386.39,229.90 L386.63,227.83 L386.87,225.73 L387.11,223.59 L387.35,221.42 L387.58,219.21 L387.82,216.97 L388.06,214.69 L388.30,212.37 L388.54,210.02 L388.77,207.62 L389.01,205.19 L389.25,202.72 L389.49,200.20 L389.72,197.64 L389.96,195.05 L390.20,192.41 L390.43,189.72 L390.67,186.99 L390.90,184.22 L391.14,181.40 L391.37,178.54 L391.61,175.62 L391.84,172.66 L392.08,169.65 L392.31,166.59 L392.55,163.48 L392.78,160.32 L393.01,157.11 L393.25,153.85 L393.48,150.53 L393.71,147.15 L393.94,143.72 L394.17,140.24 L394.41,136.70 L394.64,133.09 L394.87,129.43 L395.10,125.71 L395.33,121.93 L395.56,118.09 L395.79,114.18 L396.02,110.21 L396.25,106.17 L396.48,102.07 L396.71,97.90 L396.93,93.66 L397.16,89.35 L397.39,84.96 L397.61,80.51 L397.84,75.99 L398.07,71.39 L398.30,66.71 L398.55,61.96 L398.80,57.12 L399.05,52.21 L399.30,47.22 L399.55,42.15 L399.80,36.99 L400.05,31.75 L400.30,26.42 L400.55,21.00 L400.80,15.50 L401.05,9.90 L401.30,4.21 L401.55,-1.57 L401.80,-7.45 L402.05,-13.42 L402.30,-19.49 L402.55,-25.66" stroke="#ff0000" stroke-width="1.3"/>
<path d="M110.00,-23.15 L110.50,-20.74 L111.00,-18.35 L111.50,-15.98 L112.00,-13.62 L112.50,-11.28 L113.00,-8.95 L113.50,-6.64 L114.00,-4.34 L114.50,-2.05 L115.00,0.22 L115.50,2.48 L116.00,4.72 L116.50,6.94 L117.00,9.16 L117.50,11.36 L118.00,13.54 L118.50,15.71 L119.00,17.87 L119.50,20.01 L120.00,22.15 L120.50,24.26 L121.00,26.37 L121.50,28.45 L122.00,30.53 L122.50,32.60 L123.00,34.65 L123.50,36.68 L124.00,38.71 L124.50,40.72 L125.00,42.72 L125.50,44.70 L126.00,46.68 L126.50,48.64 L127.00,50.59 L127.50,52.52 L128.00,54.45 L128.50,56.36 L129.00,58.26 L129.50,60.15 L130.00,62.02 L130.50,63.88 L131.00,65.74 L131.50,67.58 L132.00,69.40 L132.50,71.22 L133.00,73.03 L133.50,74.82 L134.00,76.60 L134.50,78.37 L135.00,80.13 L135.50,81.88 L136.00,83.62 L136.50,85.34 L137.00,87.06 L137.50,88.76 L138.00,90.46 L138.50,92.14 L139.00,93.81 L139.50,95.47 L140.00,97.13 L140.50,98.77 L141.00,100.40 L141.50,102.02 L142.00,103.63 L142.50,105.23 L143.00,106.81 L143.50,108.39 L144.00,109.96 L144.50,111.52 L145.00,113.07 L145.50,114.61 L146.00,116.14 L146.50,117.66 L147.00,119.17 L147.50,120.67 L148.00,122.16 L148.50,123.64 L149.00,125.12 L149.50,126.58 L150.00,128.03 L150.50,129.48 L151.00,130.91 L151.50,132.34 L152.00,133.76 L152.50,135.16 L153.00,136.56 L153.50,137.95 L154.00,139.33 L154.50,140.71 L155.00,142.07 L155.50,143.43 L156.00,144.77 L156.50,146.11 L157.00,147.44 L157.50,148.76 L158.00,150.07 L158.50,151.38 L159.00,152.67 L159.50,153.96 L160.00,155.24 L160.50,156.51 L161.00,157.78 L161.50,159.03 L162.00,160.28 L162.50,161.52 L163.00,162.75 L163.50,163.98 L164.00,165.19 L164.50,166.40 L165.00,167.60 L165.50,168.79 L166.00,169.98 L166.50,171.16 L167.00,172.33 L167.50,173.49 L168.00,174.65 L168.50,175.79 L169.00,176.94 L169.50,178.07 L170.00,179.20 L170.50,180.32 L171.00,181.43 L171.50,182.53 L172.00,183.63 L172.50,184.72 L173.00,185.81 L173.50,186.89 L174.00,187.96 L174.50,189.02 L175.00,190.08 L175.50,191.13 L176.00,192.17 L176.50,193.21 L177.00,194.24 L177.50,195.26 L178.00,196.28 L178.50,197.29 L179.00,198.30 L179.50,199.29 L180.00,200.29 L180.50,201.27 L181.00,202.25 L181.50,203.22 L182.00,204.19 L182.50,205.15 L183.00,206.11 L183.50,207.05 L184.00,208.00 L184.50,208.93 L185.00,209.86 L185.50,210.79 L186.00,211.71 L186.50,212.62 L187.00,213.53 L187.50,214.43 L188.00,215.33 L188.50,216.22 L189.00,217.10 L189.50,217.98 L190.00,218.85 L190.50,219.72 L191.00,220.58 L191.50,221.44 L192.00,222.29 L192.50,223.14 L193.00,223.98 L193.50,224.81 L194.00,225.64 L194.50,226.47 L195.00,227.29 L195.50,228.10 L196.00,228.91 L196.50,229.71 L197.00,230.51 L197.50,231.30 L198.00,232.09 L198.50,232.88 L199.00,233.66 L199.50,234.43 L200.00,235.20 L200.50,235.96 L201.00,236.72 L201.50,237.47 L202.00,238.22 L202.50,238.97 L203.00,239.71 L203.50,240.44 L204.00,241.17 L204.50,241.90 L205.00,242.62 L205.50,243.34 L206.00,244.05 L206.50,244.76 L207.00,245.46 L207.50,246.16 L208.00,246.85 L208.50,247.54 L209.00,248.23 L209.50,248.91 L210.00,249.59 L210.50,250.26 L211.00,250.93 L211.50,251.59 L212.00,252.25 L212.50,252.91 L213.00,253.56 L213.50,254.21 L214.00,254.85 L214.50,255.49 L215.00,256.12 L215.50,256.76 L216.00,257.38 L216.50,258.01 L217.00,258.62 L217.50,259.24 L218.00,259.85 L218.50,260.46 L219.00,261.06 L219.50,261.66 L220.00,262.26 L220.50,262.85 L221.00,263.44 L221.50,264.02 L222.00,264.60 L222.50,265.18 L223.00,265.75 L223.50,266.32 L224.00,266.89 L224.50,267.45 L225.00,268.01 L225.50,268.57 L226.00,269.12 L226.50,269.67 L227.00,270.21 L227.50,270.75 L228.00,271.29 L228.50,271.83 L229.00,272.36 L229.50,272.89 L230.00,273.41 L230.50,273.93 L231.00,274.45 L231.50,274.96 L232.00,275.48 L232.50,275.98 L233.00,276.49 L233.50,276.99 L234.00,277.49 L234.50,277.98 L235.00,278.48 L235.50,278.97 L236.00,279.45 L236.50,279.93 L237.00,280.41 L237.50,280.89 L238.00,281.36 L238.50,281.84 L239.00,282.30 L239.50,282.77 L240.00,283.23 L240.50,283.69 L241.00,284.14 L241.50,284.60 L242.00,285.05 L242.50,285.50 L243.00,285.94 L243.50,286.38 L244.00,286.82 L244.50,287.26 L245.00,287.69 L245.50,288.12 L246.00,288.55 L246.50,288.97 L247.00,289.40 L247.50,289.82 L248.00,290.23 L248.50,290.65 L249.00,291.06 L249.50,291.47 L250.00,291.87 L250.50,292.28 L251.00,292.68 L251.50,293.08 L252.00,293.48 L252.50,293.87 L253.00,294.26 L253.50,294.65 L254.00,295.04 L254.50,295.42 L255.00,295.80 L255.50,296.18 L256.00,296.56 L256.50,296.93 L257.00,297.30 L257.50,297.67 L258.00,298.04 L258.50,298.40 L259.00,298.77 L259.50,299.13 L260.00,299.49 L260.50,299.84 L261.00,300.19 L261.50,300.55 L262.00,300.89 L262.50,301.24 L263.00,301.59 L263.50,301.93 L264.00,302.27 L264.50,302.61 L265.00,302.94 L265.50,303.28 L266.00,303.61 L266.50,303.94 L267.00,304.26 L267.50,304.59 L268.00,304.91 L268.50,305.23 L269.00,305.55 L269.50,305.87 L270.00,306.19 L270.50,306.50 L271.00,306.81 L271.50,307.12 L272.00,307.43 L272.50,307.73 L273.00,308.04 L273.50,308.34 L274.00,308.64 L274.50,308.93 L275.00,309.23 L275.50,309.52 L276.00,309.82 L276.50,310.11 L277.00,310.39 L277.50,310.68 L278.00,310.96 L278.50,311.25 L279.00,311.53 L279.50,311.81 L280.00,312.08 L280.50,312.36 L281.00,312.63 L281.50,312.91 L282.00,313.18 L282.50,313.45 L283.00,313.71 L283.50,313.98 L284.00,314.24 L284.50,314.50 L285.00,314.76 L285.50,315.02 L286.00,315.28 L286.50,315.54 L287.00,315.79 L287.50,316.04 L288.00,316.29 L288.50,316.54 L289.00,316.79 L289.50,317.03 L290.00,317.28 L290.50,317.52 L291.00,317.76 L291.50,318.00 L292.00,318.24 L292.50,318.48 L293.00,318.71 L293.50,318.95 L294.00,319.18 L294.50,319.41 L295.00,319.64 L295.50,319.86 L296.00,320.09 L296.50,320.32 L297.00,320.54 L297.50,320.76 L298.00,320.98 L298.50,321.20 L299.00,321.42 L299.50,321.64 L300.00,321.85 L300.50,322.06 L301.00,322.28 L301.50,322.49 L302.00,322.70 L302.50,322.91 L303.00,323.11 L303.50,323.32 L304.00,323.52 L304.50,323.73 L305.00,323.93 L305.50,324.13 L306.00,324.33 L306.50,324.52 L307.00,324.72 L307.50,324.92 L308.00,325.11 L308.50,325.30 L309.00,325.50 L309.50,325.69 L310.00,325.88 L310.50,326.06 L311.00,326.25 L311.50,326.44 L312.00,326.62 L312.50,326.80 L313.00,326.99 L313.50,327.17 L314.00,327.35 L314.50,327.53 L315.00,327.70 L315.50,327.88 L316.00,328.06 L316.50,328.23 L317.00,328.40 L317.50,328.57 L318.00,328.75 L318.50,328.92 L319.00,329.08 L319.50,329.25 L320.00,329.42 L320.50,329.58 L321.00,329.75 L321.50,329.91 L322.00,330.08 L322.50,330.24 L323.00,330.40 L323.50,330.56 L324.00,330.71 L324.50,330.87 L325.00,331.03 L325.50,331.18 L326.00,331.34 L326.50,331.49 L327.00,331.64 L327.50,331.80 L328.00,331.95 L328.50,332.10 L329.00,332.24 L329.50,332.39 L330.00,332.54 L330.50,332.68 L331.00,332.83 L331.50,332.97 L332.00,333.11 L332.50,333.26 L333.00,333.40 L333.50,333.54 L334.00,333.68 L334.50,333.81 L335.00,333.95 L335.50,334.09 L336.00,334.22 L336.50,334.36 L337.00,334.49 L337.50,334.62 L338.00,334.75 L338.50,334.88 L339.00,335.01 L339.50,335.14 L340.00,335.26 L340.50,335.39 L341.00,335.51 L341.50,335.63 L342.00,335.76 L342.50,335.87 L343.00,335.99 L343.50,336.11 L344.00,336.22 L344.50,336.33 L345.00,336.44 L345.50,336.54 L346.00,336.64 L346.50,336.74 L347.00,336.84 L347.50,336.93 L348.00,337.01 L348.50,337.09 L349.00,337.16 L349.50,337.23 L350.00,337.28 L350.50,337.33 L351.00,337.36 L351.50,337.39 L352.00,337.39 L352.50,337.38 L353.00,337.36 L353.50,337.31 L354.00,337.24 L354.50,337.14 L355.00,337.02 L355.50,336.86 L356.00,336.67 L356.50,336.44 L357.00,336.17 L357.50,335.86 L358.00,335.51 L358.50,335.11 L359.00,334.67 L359.50,334.19 L360.00,333.66 L360.50,333.09 L361.00,332.47 L361.50,331.82 L362.00,331.13 L362.50,330.40 L363.00,329.63 L363.50,328.83 L364.00,327.99 L364.50,327.11 L365.00,326.20 L365.50,325.25 L366.00,324.27 L366.50,323.25 L367.00,322.19 L367.50,321.10 L368.00,319.96 L368.50,318.79 L369.00,317.58 L369.50,316.33 L370.00,315.03 L370.50,313.69 L371.00,312.31 L371.50,310.87 L372.00,309.39 L372.50,307.87 L373.00,306.29 L373.50,304.65 L374.00,302.97 L374.50,301.22 L375.00,299.42 L375.50,297.56 L376.00,295.64 L376.50,293.65 L377.00,291.60 L377.50,289.48 L378.00,287.29 L378.50,285.03 L379.00,282.69 L379.50,280.27 L380.00,277.78 L380.50,275.20 L381.00,272.53 L381.50,269.78 L382.00,266.93 L382.50,263.99 L383.00,260.96 L383.50,257.82 L384.00,254.58 L384.50,251.23 L385.00,247.77 L385.50,244.19 L386.00,240.50 L386.50,236.68 L387.00,232.73 L387.50,228.66 L388.00,224.45 L388.50,220.10 L389.00,215.61 L389.50,210.96 L390.00,206.17 L390.50,201.21 L391.00,196.09 L391.50,190.80 L392.00,185.33 L392.50,179.69 L393.00,173.85 L393.50,167.82 L394.00,161.59 L394.50,155.16 L395.00,148.51 L395.50,141.64 L396.00,134.54 L396.50,127.21 L397.00,119.63 L397.50,111.80 L398.00,103.72 L398.50,95.36 L399.00,86.73 L399.50,77.81 L400.00,68.59 L400.50,59.07 L401.00,49.23 L401.50,39.06 L402.00,28.56 L402.50,17.71 L403.00,6.50 L403.50,-5.08 L404.00,-17.05" stroke="#ff0000" stroke-width="3.0" stroke-dasharray="14.3 2.31" stroke-dashoffset="4.045"/>
</g>
<rect x="266" y="81.5" width="120" height="21.5" fill="#fff"/>
<path d="M294.6,139.50H316.1" stroke="#000" stroke-width="1" fill="none"/>
<path d="M294.6,136.70v5.6M316.1,136.70v5.6" stroke="#000" stroke-width="1" fill="none"/>
<circle cx="299.9" cy="139.5" r="2.1" fill="#000"/>
<path d="M289.6,146.00H310.4" stroke="#000" stroke-width="1" fill="none"/>
<path d="M289.6,143.20v5.6M310.4,143.20v5.6" stroke="#000" stroke-width="1" fill="none"/>
<circle cx="307.0" cy="146.0" r="2.1" fill="#000"/>
<path d="M253.2,161.50H270.8" stroke="#000" stroke-width="1" fill="none"/>
<path d="M253.2,158.70v5.6M270.8,158.70v5.6" stroke="#000" stroke-width="1" fill="none"/>
<circle cx="254.7" cy="161.5" r="2.1" fill="#000"/>
<path d="M273.6,163.50H293.1" stroke="#000" stroke-width="1" fill="none"/>
<path d="M273.6,160.70v5.6M293.1,160.70v5.6" stroke="#000" stroke-width="1" fill="none"/>
<circle cx="275.2" cy="163.5" r="2.1" fill="#000"/>
<path d="M278.5,163.40H298.4" stroke="#000" stroke-width="1" fill="none"/>
<path d="M278.5,160.60v5.6M298.4,160.60v5.6" stroke="#000" stroke-width="1" fill="none"/>
<circle cx="290.4" cy="163.4" r="2.1" fill="#000"/>
<path d="M258.9,172.00H276.5" stroke="#000" stroke-width="1" fill="none"/>
<path d="M258.9,169.20v5.6M276.5,169.20v5.6" stroke="#000" stroke-width="1" fill="none"/>
<circle cx="261.2" cy="172.0" r="2.1" fill="#000"/>
<path d="M270.9,201.40H289.2" stroke="#000" stroke-width="1" fill="none"/>
<path d="M270.9,198.60v5.6M289.2,198.60v5.6" stroke="#000" stroke-width="1" fill="none"/>
<circle cx="277.7" cy="201.4" r="2.1" fill="#000"/>
<path d="M290.8,174.8H283.0 M285.2,172.3 q-0.6,1.9 -2.5,2.5 q1.9,0.6 2.5,2.5" stroke="#000" stroke-width="0.95" fill="none"/>
<circle cx="290.8" cy="174.8" r="2.1" fill="#000"/>
<path d="M266.8,203.6H259.4 M261.6,201.1 q-0.6,1.9 -2.5,2.5 q1.9,0.6 2.5,2.5" stroke="#000" stroke-width="0.95" fill="none"/>
<circle cx="266.8" cy="203.6" r="2.1" fill="#000"/>
<path d="M231.9,215.6H225.4 M227.6,213.1 q-0.6,1.9 -2.5,2.5 q1.9,0.6 2.5,2.5" stroke="#000" stroke-width="0.95" fill="none"/>
<circle cx="231.9" cy="215.6" r="2.1" fill="#000"/>
<path d="M256.0,223.8H249.0 M251.2,221.3 q-0.6,1.9 -2.5,2.5 q1.9,0.6 2.5,2.5" stroke="#000" stroke-width="0.95" fill="none"/>
<circle cx="256.0" cy="223.8" r="2.1" fill="#000"/>
<path d="M265.6,246.0H258.7 M260.9,243.5 q-0.6,1.9 -2.5,2.5 q1.9,0.6 2.5,2.5" stroke="#000" stroke-width="0.95" fill="none"/>
<circle cx="265.6" cy="246.0" r="2.1" fill="#000"/>
<path d="M269.2,253.0H261.8 M264.0,250.5 q-0.6,1.9 -2.5,2.5 q1.9,0.6 2.5,2.5" stroke="#000" stroke-width="0.95" fill="none"/>
<circle cx="269.2" cy="253.0" r="2.1" fill="#000"/>
<path d="M282.4,269.8H274.6 M276.8,267.3 q-0.6,1.9 -2.5,2.5 q1.9,0.6 2.5,2.5" stroke="#000" stroke-width="0.95" fill="none"/>
<circle cx="282.4" cy="269.8" r="2.1" fill="#000"/>
<path d="M234.3,283.9H226.7 M228.9,281.4 q-0.6,1.9 -2.5,2.5 q1.9,0.6 2.5,2.5" stroke="#000" stroke-width="0.95" fill="none"/>
<circle cx="234.3" cy="283.9" r="2.1" fill="#000"/>
<path d="M241.9,284.8H234.3 M236.5,282.3 q-0.6,1.9 -2.5,2.5 q1.9,0.6 2.5,2.5" stroke="#000" stroke-width="0.95" fill="none"/>
<circle cx="241.9" cy="284.8" r="2.1" fill="#000"/>
<path d="M272.6,283.9H264.7 M266.9,281.4 q-0.6,1.9 -2.5,2.5 q1.9,0.6 2.5,2.5" stroke="#000" stroke-width="0.95" fill="none"/>
<circle cx="272.6" cy="283.9" r="2.1" fill="#000"/>
<circle cx="251.7" cy="289.0" r="2.1" fill="#000"/>
<path d="M250.4,290.9H243.9 M246.1,288.4 q-0.6,1.9 -2.5,2.5 q1.9,0.6 2.5,2.5" stroke="#000" stroke-width="0.95" fill="none"/>
<circle cx="250.4" cy="290.9" r="2.1" fill="#000"/>
<path d="M274.8,291.5H267.2 M269.4,289.0 q-0.6,1.9 -2.5,2.5 q1.9,0.6 2.5,2.5" stroke="#000" stroke-width="0.95" fill="none"/>
<circle cx="274.8" cy="291.5" r="2.1" fill="#000"/>
<circle cx="266.9" cy="146.2" r="4.4" fill="#ff8000"/>
<path d="M263.8,146.25H281.2" stroke="#000" stroke-width="1" fill="none"/>
<path d="M263.8,143.45v5.6M281.2,143.45v5.6" stroke="#000" stroke-width="1" fill="none"/>
<circle cx="266.9" cy="146.2" r="2.1" fill="#000"/>
<circle cx="192.6" cy="294.9" r="4.4" fill="#ff8000"/>
<path d="M192.6,294.90H205.3" stroke="#000" stroke-width="1" fill="none"/>
<path d="M205.3,292.10v5.6" stroke="#000" stroke-width="1" fill="none"/>
<circle cx="192.6" cy="294.9" r="2.1" fill="#000"/>
<text x="62" y="358.90" font-size="14.6" text-anchor="end">0</text>
<text x="62" y="289.26" font-size="14.6" text-anchor="end">200</text>
<text x="62" y="219.62" font-size="14.6" text-anchor="end">400</text>
<text x="62" y="149.98" font-size="14.6" text-anchor="end">600</text>
<text x="62" y="80.34" font-size="14.6" text-anchor="end">800</text>
<text x="62" y="10.70" font-size="14.6" text-anchor="end">1000</text>
<text x="79.5" y="375" font-size="14.6" text-anchor="middle">10<tspan font-size="11.2" dy="-5.5">4</tspan></text>
<text x="129.5" y="375" font-size="14.6" text-anchor="middle">10<tspan font-size="11.2" dy="-5.5">5</tspan></text>
<text x="179.5" y="375" font-size="14.6" text-anchor="middle">10<tspan font-size="11.2" dy="-5.5">6</tspan></text>
<text x="230.5" y="375" font-size="14.6" text-anchor="middle">10<tspan font-size="11.2" dy="-5.5">7</tspan></text>
<text x="280.5" y="375" font-size="14.6" text-anchor="middle">10<tspan font-size="11.2" dy="-5.5">8</tspan></text>
<text x="330.5" y="375" font-size="14.6" text-anchor="middle">10<tspan font-size="11.2" dy="-5.5">9</tspan></text>
<text x="380.5" y="375" font-size="14.6" text-anchor="middle">10<tspan font-size="11.2" dy="-5.5">10</tspan></text>
<text x="219.5" y="404" font-size="19.2">T [K]</text>
<text transform="translate(15.8,181.8) rotate(-90)" font-size="19.8" text-anchor="middle">f [Hz]</text>
<text x="175.5" y="25.2" font-size="15.0" text-anchor="middle">viscous</text>
<text x="177.0" y="42.0" font-size="15.0" text-anchor="middle">damping</text>
<text x="190.0" y="77.8" font-size="15.0" text-anchor="middle">hadronic</text>
<text x="190.4" y="94.7" font-size="15.0" text-anchor="middle">matter</text>
<text x="203.5" y="129.3" font-size="15.0" text-anchor="middle">Ekman</text>
<text x="202.2" y="146.2" font-size="15.0" text-anchor="middle">layer</text>
<text x="325.9" y="97.4" font-size="15.3" text-anchor="middle">IGR J00291+5934</text>
<text x="110.2" y="230.8" font-size="15.0" text-anchor="middle">interacting</text>
<text x="110.0" y="247.6" font-size="15.1" text-anchor="middle">quark&#160; matter</text>
<text x="118.7" y="310.5" font-size="15.1" text-anchor="middle">non−interacting</text>
<text x="120.2" y="327.9" font-size="15.0" text-anchor="middle">quark matter</text>
<text x="241.0" y="330.0" font-size="15.2" text-anchor="middle">J0437−4715</text>
<line x1="153.90" y1="46.90" x2="143.65" y2="58.15" stroke="#000" stroke-width="1"/><polygon points="135.50,67.10 141.78,54.42 143.65,58.15 147.54,59.67" fill="#000"/>
<line x1="221.00" y1="119.70" x2="237.07" y2="102.78" stroke="#000" stroke-width="1"/><polygon points="245.40,94.00 238.86,106.55 237.07,102.78 233.21,101.18" fill="#000"/>
<line x1="318.40" y1="99.50" x2="281.08" y2="133.19" stroke="#000" stroke-width="1"/><polygon points="272.10,141.30 279.58,129.29 281.08,133.19 284.81,135.08" fill="#000"/>
<line x1="109.60" y1="217.70" x2="122.36" y2="201.67" stroke="#000" stroke-width="1"/><polygon points="129.90,192.20 124.48,205.27 122.36,201.67 118.38,200.41" fill="#000"/>
<line x1="160.10" y1="301.10" x2="181.12" y2="288.52" stroke="#000" stroke-width="1"/><polygon points="191.50,282.30 181.83,292.63 181.12,288.52 177.83,285.94" fill="#000"/>
<line x1="224.80" y1="314.60" x2="208.14" y2="304.82" stroke="#000" stroke-width="1"/><polygon points="197.70,298.70 211.40,302.22 208.14,304.82 207.46,308.95" fill="#000"/>
</svg></body></html>
